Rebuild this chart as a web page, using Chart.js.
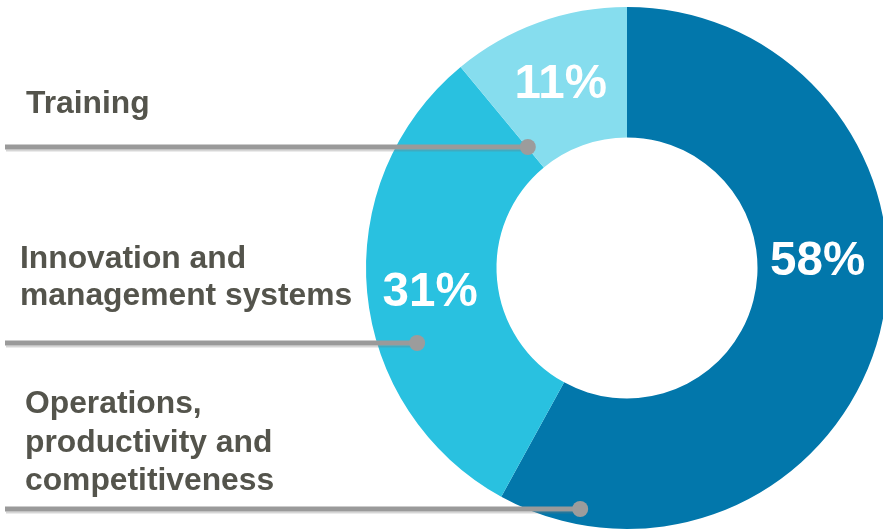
<!DOCTYPE html>
<html>
<head>
<meta charset="utf-8">
<script src="https://cdn.jsdelivr.net/npm/chart.js@4/dist/chart.umd.min.js"></script>
<style>
  html, body { margin: 0; padding: 0; background: #ffffff; overflow: hidden; }
  #wrap { position: absolute; left: 0; top: 0; width: 888px; height: 531px; }
</style>
</head>
<body>
<div id="wrap"><canvas id="c"></canvas></div>
<script>
// ---- data ----
const categories = ["Operations, productivity and competitiveness", "Innovation and management systems", "Training"];
const shares = [58, 31, 11];
const valueLabels = ["58%", "31%", "11%"];
const categoryLines = [
  ["Operations,", "productivity and", "competitiveness"],
  ["Innovation and", "management systems"],
  ["Training"]
];
const colors = ["#0277ab", "#29c1e0", "#86ddee"];

// ---- annotation layout (not data) ----
const valueLabelOffsets = [{dx: 1, dy: -55}, {dx: -2, dy: 6}, {dx: 0, dy: 1}];
const leaderDefs = [
  {textX: 25, baseline: 413, lineH: 38.5, lineY: 509, angle: 191, rFrac: 0.94},
  {textX: 20, baseline: 268, lineH: 37, lineY: 343, angle: 250.3, rFrac: 0.854},
  {textX: 26, baseline: 113, lineH: 37, lineY: 147, angle: 320.7, rFrac: 0.60}
];

const labelPlugin = {
  id: 'labels',
  afterDatasetsDraw(chart) {
    const ctx = chart.ctx;
    const meta = chart.getDatasetMeta(0);
    const arc0 = meta.data[0];
    const cx = arc0.x, cy = arc0.y, R = arc0.outerRadius;
    ctx.save();
    // value labels
    ctx.fillStyle = '#ffffff';
    ctx.font = 'bold 47.5px "Liberation Sans", Arial, sans-serif';
    ctx.textAlign = 'center';
    ctx.textBaseline = 'middle';
    meta.data.forEach((arc, i) => {
      const p = arc.tooltipPosition();
      const o = valueLabelOffsets[i];
      ctx.fillText(valueLabels[i], p.x + o.dx, p.y + o.dy);
    });
    // category labels + leader lines
    ctx.textAlign = 'left';
    ctx.textBaseline = 'alphabetic';
    ctx.font = 'bold 31.8px "Liberation Sans", Arial, sans-serif';
    leaderDefs.forEach((d, i) => {
      ctx.fillStyle = '#54544c';
      categoryLines[i].forEach((t, k) => ctx.fillText(t, d.textX, d.baseline + k * d.lineH));
      const a = d.angle * Math.PI / 180;
      const ex = cx + R * d.rFrac * Math.sin(a);
      const ey = d.lineY;
      // shadow
      ctx.strokeStyle = 'rgba(120,120,120,0.3)';
      ctx.lineWidth = 2;
      ctx.beginPath(); ctx.moveTo(6, ey + 3.5); ctx.lineTo(ex, ey + 3.5); ctx.stroke();
      ctx.strokeStyle = '#9a9a9a';
      ctx.lineWidth = 5;
      ctx.beginPath(); ctx.moveTo(5, ey); ctx.lineTo(ex, ey); ctx.stroke();
      ctx.fillStyle = '#9c9c9c';
      ctx.beginPath(); ctx.arc(ex, ey, 8, 0, Math.PI * 2); ctx.fill();
    });
    ctx.restore();
  }
};

new Chart(document.getElementById('c'), {
  type: 'doughnut',
  data: {
    labels: categories,
    datasets: [{
      data: shares,
      backgroundColor: colors,
      borderWidth: 0,
      hoverOffset: 0
    }]
  },
  options: {
    responsive: true,
    maintainAspectRatio: false,
    animation: false,
    cutout: '50%',
    layout: { padding: { left: 366, right: 0, top: 7, bottom: 2 } },
    plugins: {
      legend: { display: false },
      tooltip: { enabled: false }
    }
  },
  plugins: [labelPlugin]
});
</script>
</body>
</html>
